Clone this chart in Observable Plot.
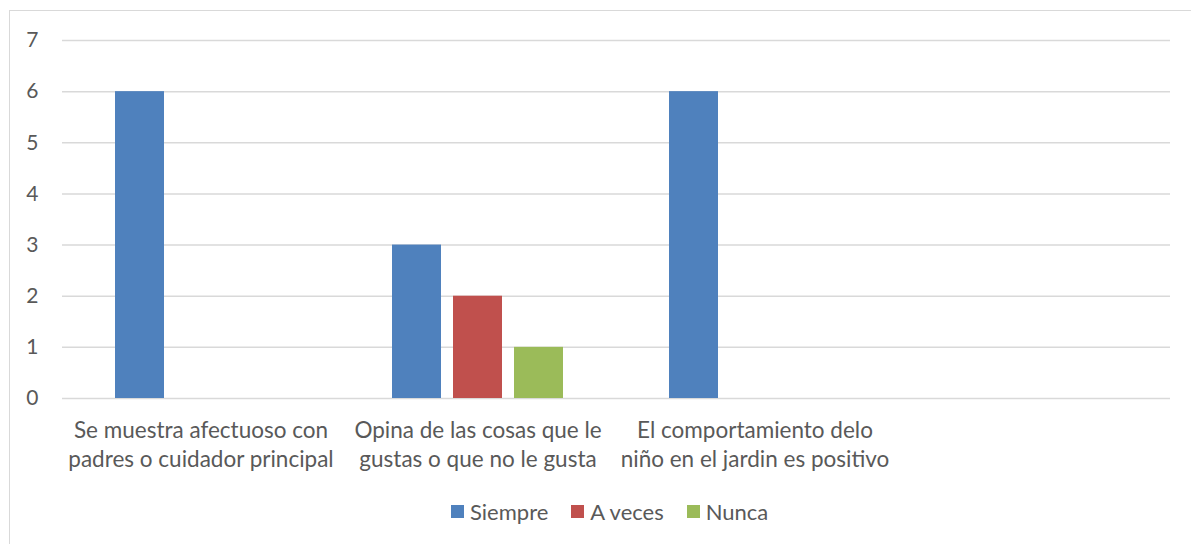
<!DOCTYPE html>
<html>
<head>
<meta charset="utf-8">
<script src="https://cdn.jsdelivr.net/npm/d3@7"></script>
<script src="https://cdn.jsdelivr.net/npm/@observablehq/plot@0.6"></script>
<style>
  body { margin: 0; background: #fff; font-family: Lato, "Open Sans", sans-serif; }
  #frame { position: absolute; left: 9px; top: 10px; width: 1200px; height: 560px; border: 1px solid #d9d9d9; box-sizing: border-box; }
  #chart { position: absolute; left: 0; top: 0; }
  #legend { position: absolute; left: 451px; top: 498px; display: flex; align-items: center; font-size: 22px; color: #595959; }
  .item { display: flex; align-items: center; margin-right: 23px; }
  .sw { width: 13px; height: 13px; margin-right: 6px; }
</style>
</head>
<body>
<div id="frame"></div>
<div id="chart"></div>
<div id="legend"></div>
<script>
const categories = [
  "Se muestra afectuoso con\npadres o cuidador principal",
  "Opina de las cosas que le\ngustas o que no le gusta",
  "El comportamiento delo\nniño en el jardin es positivo",
  ""
];
const series = ["Siempre", "A veces", "Nunca"];
const colors = ["#4f81bd", "#c0504d", "#9bbb59"];
const siempre = [6, 3, 6, 0];
const aVeces = [0, 2, 0, 0];
const nunca = [0, 1, 0, 0];
const yTicks = [0, 1, 2, 3, 4, 5, 6, 7];

const rows = [];
[siempre, aVeces, nunca].forEach((vals, si) => {
  vals.forEach((v, ci) => rows.push({category: categories[ci], series: series[si], value: v}));
});

const chart = Plot.plot({
  width: 1191,
  height: 480,
  marginLeft: 61,
  marginRight: 20,
  marginTop: 40,
  marginBottom: 82,
  style: {fontFamily: "Lato, 'Open Sans', sans-serif", color: "#595959", background: "transparent"},
  fx: {domain: categories, padding: 0, axis: null},
  x: {domain: series, paddingInner: 0.203, paddingOuter: 0.857, axis: null},
  y: {domain: [0, 7], axis: null},
  color: {domain: series, range: colors},
  marks: [
    Plot.ruleY(yTicks, {stroke: "#d9d9d9", strokeWidth: 1.5, strokeOpacity: 1}),
    Plot.barY(rows, {fx: "category", x: "series", y: "value", fill: "series"}),
    Plot.axisY({ticks: yTicks, anchor: "left", tickSize: 0, tickPadding: 24, fontSize: 21, fill: "#595959", label: null, tickFormat: d => d}),
    Plot.axisFx({anchor: "bottom", tickSize: 0, tickPadding: 19, fontSize: 22.5, lineHeight: 1.29, fill: "#595959", label: null})
  ]
});
document.getElementById("chart").appendChild(chart);

const legend = document.getElementById("legend");
series.forEach((s, i) => {
  const it = document.createElement("div");
  it.className = "item";
  const sw = document.createElement("div");
  sw.className = "sw";
  sw.style.background = colors[i];
  const t = document.createElement("span");
  t.textContent = s;
  it.appendChild(sw); it.appendChild(t);
  legend.appendChild(it);
});
</script>
</body>
</html>
